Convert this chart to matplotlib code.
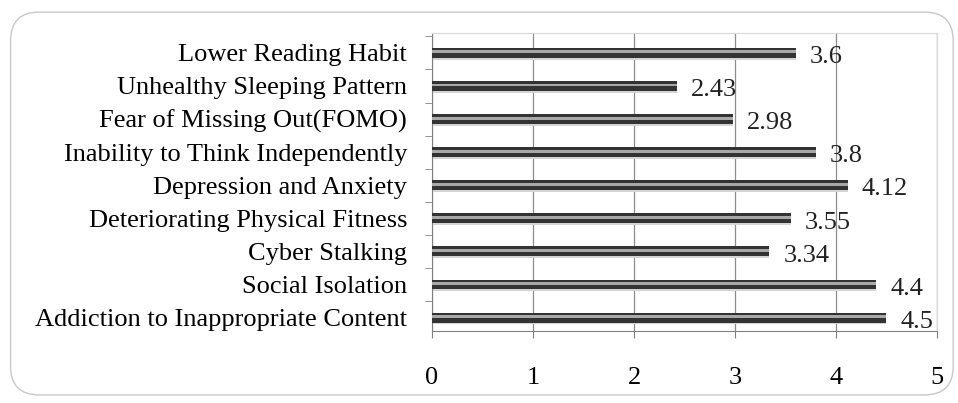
import matplotlib.pyplot as plt
from matplotlib.patches import FancyBboxPatch
from matplotlib.ticker import FixedLocator

# Data (bottom to top)
categories = ["Addiction to Inappropriate Content", "Social Isolation", "Cyber Stalking",
              "Deteriorating Physical Fitness", "Depression and Anxiety",
              "Inability to Think Independently", "Fear of Missing Out(FOMO)",
              "Unhealthy Sleeping Pattern", "Lower Reading Habit"]
values = [4.5, 4.4, 3.34, 3.55, 4.12, 3.8, 2.98, 2.43, 3.6]
value_labels = ["4.5", "4.4", "3.34", "3.55", "4.12", "3.8", "2.98", "2.43", "3.6"]
xticks = [0, 1, 2, 3, 4, 5]

plt.rcParams['font.family'] = ['Liberation Serif', 'DejaVu Serif']

fig = plt.figure(figsize=(9.58, 4.03), dpi=100)

# rounded frame around the whole chart
frame = FancyBboxPatch((0.011, 0.02), 0.984, 0.95, boxstyle="round,pad=0,rounding_size=0.03",
                       transform=fig.transFigure, facecolor='none', edgecolor='#c8c8c8',
                       linewidth=1.0, mutation_aspect=958/403, zorder=-1)
fig.patches.append(frame)

ax = fig.add_axes([0.451, 0.179, 0.527, 0.739])
ax.patch.set_alpha(0)
pos = range(len(categories))

# shadow, dark bar and light highlight stripe
ax.barh([p - 0.05 for p in pos], values, height=0.3, color='#d4d4d4', zorder=2)
ax.barh(pos, values, height=0.3, color='#333333', zorder=3)
ax.barh([p + 0.03 for p in pos], values, height=0.09, color='#a8a8a8', zorder=4)

for p, v, lab in zip(pos, values, value_labels):
    ax.annotate(lab, (v, p), xytext=(10, -3), textcoords='offset points',
                ha='left', va='center', fontsize=19, color='#222222')

ax.set_xlim(0, 5)
ax.set_ylim(-0.4, len(categories) - 0.4)
ax.set_xticks(xticks)
ax.set_xticklabels([str(t) for t in xticks])
ax.set_yticks(list(pos))
ax.set_yticklabels(categories)
ax.yaxis.set_minor_locator(FixedLocator([p + 0.5 for p in range(-1, len(categories))]))

ax.tick_params(axis='y', which='major', length=0, pad=18, labelsize=19)
ax.tick_params(axis='y', which='minor', length=5, color='#808080', direction='out')
ax.tick_params(axis='x', length=5, color='#808080', pad=21, labelsize=19)

ax.grid(axis='x', color='#8c8c8c', linewidth=0.9, zorder=0)
ax.set_axisbelow(True)
for side in ['left', 'bottom']:
    ax.spines[side].set_color('#808080')
for side in ['top', 'right']:
    ax.spines[side].set_color('#d8d8d8')

fig.savefig('out.png', dpi=100)
